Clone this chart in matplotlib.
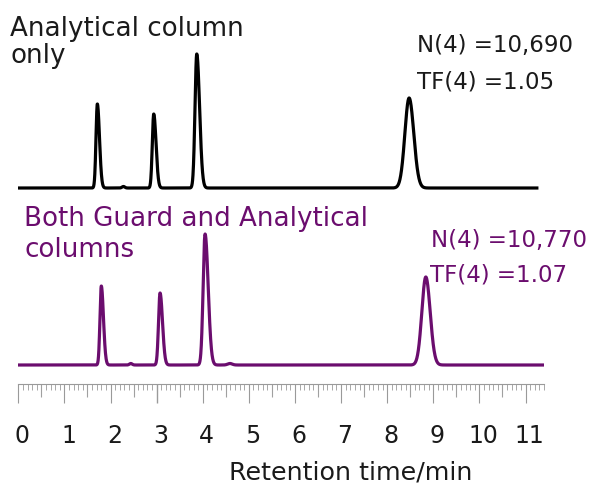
import numpy as np
import matplotlib
matplotlib.use("Agg")
import matplotlib.pyplot as plt
import matplotlib.transforms as mtransforms

# ---------------- data ----------------
# Retention times (min), peak heights (signal units), peak widths (sigma, min), tailing ratio
top_rt = [1.714, 2.28, 2.937, 3.87, 8.475]
top_height = [84, 1.5, 74, 134, 90]
top_sigma = [0.029, 0.03, 0.031, 0.038, 0.092]
top_tail = [1.6, 1.0, 1.6, 1.6, 1.1]
top_end = 11.245

bottom_rt = [1.80, 2.44, 3.074, 4.05, 4.59, 8.837]
bottom_height = [79, 1.5, 72, 131, 1.5, 88]
bottom_sigma = [0.029, 0.03, 0.033, 0.042, 0.05, 0.086]
bottom_tail = [1.6, 1.0, 1.6, 1.6, 1.0, 1.1]
bottom_end = 11.40

tick_values = list(range(12))
tick_labels = [str(v) for v in tick_values]

top_title = ["Analytical column", "only"]
top_stats = ["N(4) =10,690", "TF(4) =1.05"]
bottom_title = ["Both Guard and Analytical", "columns"]
bottom_stats = ["N(4) =10,770", "TF(4) =1.07"]

PURPLE = "#6b0d6e"
W, H = 597, 484


def trace(t, rts, heights, sigmas, tails):
    y = np.zeros_like(t)
    for r, h, s, tf in zip(rts, heights, sigmas, tails):
        sig = np.where(t < r, s, s * tf)
        y += h * np.exp(-0.5 * ((t - r) / sig) ** 2)
    return y


fig = plt.figure(figsize=(W / 100, H / 100), dpi=100)
x0, x1 = 18.3, 544.0
ax = fig.add_axes([x0 / W, 100 / H, (x1 - x0) / W, 384 / H])
ax.set_xlim(0, 11.4)
ax.set_ylim(0, 384)

top_offset = 196
bottom_offset = 19

t_top = np.linspace(0, top_end, 4000)
t_bot = np.linspace(0, bottom_end, 4000)
ax.plot(t_top, top_offset + trace(t_top, top_rt, top_height, top_sigma, top_tail),
        color="black", lw=2.3, solid_joinstyle="round")
ax.plot(t_bot, bottom_offset + trace(t_bot, bottom_rt, bottom_height, bottom_sigma, bottom_tail),
        color=PURPLE, lw=2.3, solid_joinstyle="round")

for s in ["left", "top", "right"]:
    ax.spines[s].set_visible(False)
ax.spines["bottom"].set_color("#9a9a9a")
ax.spines["bottom"].set_linewidth(0.8)
ax.set_yticks([])

ax.set_xticks(tick_values)
ax.set_xticklabels(tick_labels, fontsize=17, color="#1a1a1a")
minor = [i / 10 for i in range(115) if i % 5 != 0]
ax.set_xticks(minor, minor=True)
ax.tick_params(axis="x", which="major", length=13.7, width=0.8, color="#9a9a9a", pad=15)
ax.tick_params(axis="x", which="minor", length=4.3, width=0.7, color="#a8a8a8")
for i, tk in enumerate(ax.xaxis.get_major_ticks()):
    if tick_values[i] == 3:
        tk.tick1line.set_color("black")
        tk.tick1line.set_markeredgewidth(1.0)
offset = mtransforms.ScaledTranslation(4 / 100, 0, fig.dpi_scale_trans)
for lab in ax.get_xticklabels():
    lab.set_transform(lab.get_transform() + offset)

# half-unit ticks (medium length)
sec = ax.secondary_xaxis("bottom")
sec.spines["bottom"].set_visible(False)
sec.set_xticks([v + 0.5 for v in tick_values[:-1]])
sec.set_xticklabels([])
sec.tick_params(axis="x", which="major", length=9.1, width=0.8, color="#a0a0a0")
sec.tick_params(axis="x", which="minor", length=0)

fig.text(350.7 / W, 1 - 472.7 / H, "Retention time/min", fontsize=18.3,
         ha="center", va="center", color="#1a1a1a")


def ptext(x, y, s, **kw):
    fig.text(x / W, 1 - y / H, s, va="baseline", ha="left", **kw)


ptext(10, 36, top_title[0], fontsize=18.8, color="#1a1a1a")
ptext(10, 62.7, top_title[1], fontsize=18.8, color="#1a1a1a")
ptext(417, 52, top_stats[0], fontsize=16.5, color="#1a1a1a")
ptext(417, 88, top_stats[1], fontsize=16.5, color="#1a1a1a")

ptext(24, 226, bottom_title[0], fontsize=18.8, color=PURPLE)
ptext(24, 257, bottom_title[1], fontsize=18.8, color=PURPLE)
ptext(431, 246.7, bottom_stats[0], fontsize=16.5, color=PURPLE)
ptext(430, 281.7, bottom_stats[1], fontsize=16.5, color=PURPLE)

fig.savefig("out.png", dpi=100)
